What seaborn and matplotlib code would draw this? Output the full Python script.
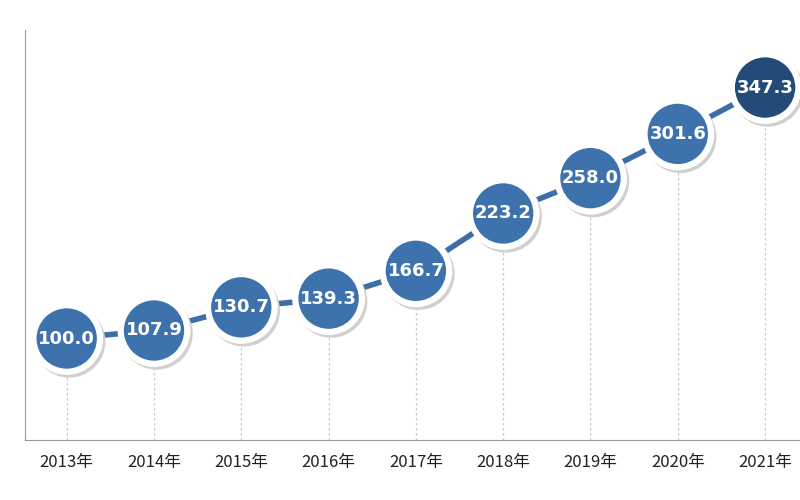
import matplotlib
matplotlib.use("Agg")
import matplotlib.pyplot as plt
import seaborn as sns
import pandas as pd

years = ["2013年","2014年","2015年","2016年","2017年","2018年","2019年","2020年","2021年"]
values = [100.0,107.9,130.7,139.3,166.7,223.2,258.0,301.6,347.3]

sns.set_style("white")
plt.rcParams['font.family'] = ['Noto Sans CJK SC', 'DejaVu Sans']

fig = plt.figure(figsize=(8,5), dpi=100)
ax = fig.add_axes([0.031, 0.12, 0.969, 0.82])
df = pd.DataFrame({"x": range(len(years)), "y": values})
for i, v in enumerate(values):
    ax.plot([i, i], [0, v], ls=(0,(2,2)), color="#c8c8c8", lw=0.9, zorder=1)
sns.lineplot(data=df, x="x", y="y", ax=ax, color="#3d6fa6", lw=4, zorder=2)
colors = ["#3e72ad"]*(len(values)-1) + ["#244a78"]
ax.scatter(df.x + 0.03, df.y - 3, s=2700, c="#d0d0d0", edgecolors="none", zorder=2.5)
ax.scatter(df.x, df.y, s=2300, c=colors, edgecolors="white", linewidths=4.5, zorder=3)
for i, v in enumerate(values):
    ax.text(i, v, f"{v:.1f}", ha="center", va="center", color="white",
            fontsize=13, fontweight="bold", family=["DejaVu Sans"], zorder=4)
ax.set_xlim(-0.48, 8.4)
ax.set_ylim(0, 404)
ax.set_xticks(range(len(years)))
ax.set_xticklabels(years, fontsize=12, color="#222222")
ax.set_yticks([])
ax.set_xlabel(""); ax.set_ylabel("")
for s in ["top","right"]:
    ax.spines[s].set_visible(False)
ax.spines["left"].set_color("#999999")
ax.spines["bottom"].set_color("#999999")
ax.tick_params(axis="x", length=0, pad=10)
fig.savefig("out.png")
